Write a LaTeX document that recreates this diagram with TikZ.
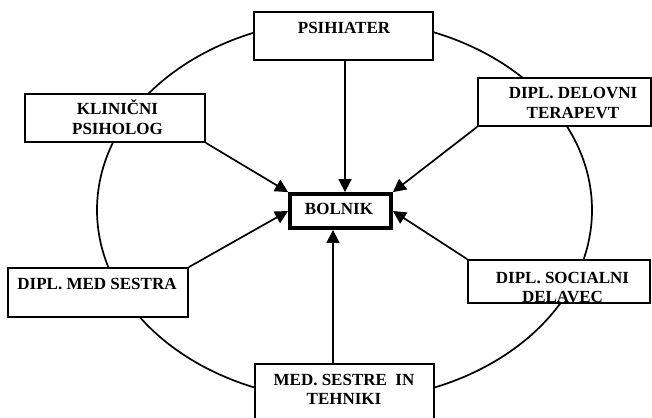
\documentclass[tikz,border=0pt]{standalone}
\usepackage{fontspec}
\setmainfont{Liberation Serif}
\usetikzlibrary{arrows.meta,calc}

\begin{document}
\begin{tikzpicture}[x=1pt,y=-1pt,
  box/.style={draw,fill=white,line width=1.8pt,rectangle,inner sep=0pt},
  lbl/.style={anchor=base,inner sep=0pt,font=\fontsize{17}{20}\selectfont\bfseries},
  arr/.style={line width=1.7pt,-{Triangle[length=13pt,width=13pt]}},
  ring/.style={line width=1.7pt}]
\useasboundingbox (0,0) rectangle (652,417);
\clip (0,0) rectangle (652,417);

% the care circle around the patient
\draw[ring] (344.5,210) ellipse [x radius=247.5, y radius=190.5];

% team members
\node[box,minimum width=179pt,minimum height=48pt] (psih)   at (343.5,36) {};
\node[box,minimum width=173pt,minimum height=48pt] (delov)  at (564.5,102) {};
\node[box,minimum width=180pt,minimum height=48pt] (klin)   at (115,118) {};
\node[box,minimum width=180pt,minimum height=49pt] (medses) at (98,292.5) {};
\node[box,minimum width=182pt,minimum height=43pt] (social) at (559,281.5) {};
\node[box,minimum width=179pt,minimum height=66pt] (tehn)   at (344.5,397) {};

% the patient
\node[box,line width=3.8pt,minimum width=101pt,minimum height=34pt] (bolnik) at (340.5,211) {};

% labels
\node[lbl] (tpsih)  at (344,33.3)  {PSIHIATER};
\node[lbl] (tdel1)  at (573,98.3)  {DIPL. DELOVNI};
\node[lbl] (tdel2)  at (573,118.3) {TERAPEVT};
\node[lbl] (tkl1)   at (117.5,114.3) {KLINIČNI};
\node[lbl] (tkl2)   at (117.5,134.3) {PSIHOLOG};
\node[lbl] (tbol)   at (339,214.3) {BOLNIK};
\node[lbl] (tmed)   at (97,289.3)  {DIPL. MED SESTRA};
\begin{scope}
  \clip (social.north west) rectangle ([yshift=2pt]social.south east);
  \node[lbl] (tsoc1) at (562.5,283.3) {DIPL. SOCIALNI};
  \node[lbl] (tsoc2) at (562.5,302.3) {DELAVEC};
\end{scope}
\node[lbl] (tteh1)  at (344,385)   {MED. SESTRE\ \ IN};
\node[lbl] (tteh2)  at (344,404.3) {TEHNIKI};

% connectors to the patient
\draw[arr] ([xshift=1.5pt]psih.south) -- ([xshift=4.5pt]bolnik.north);
\draw[arr] (klin.south east) -- (bolnik.north west);
\draw[arr] (delov.south west) -- (bolnik.north east);
\draw[arr] (medses.north east) -- (bolnik.west);
\draw[arr] (social.north west) -- (bolnik.east);
\draw[arr] ([xshift=-11.5pt]tehn.north) -- ([xshift=-7.5pt]bolnik.south);
\end{tikzpicture}
\end{document}
